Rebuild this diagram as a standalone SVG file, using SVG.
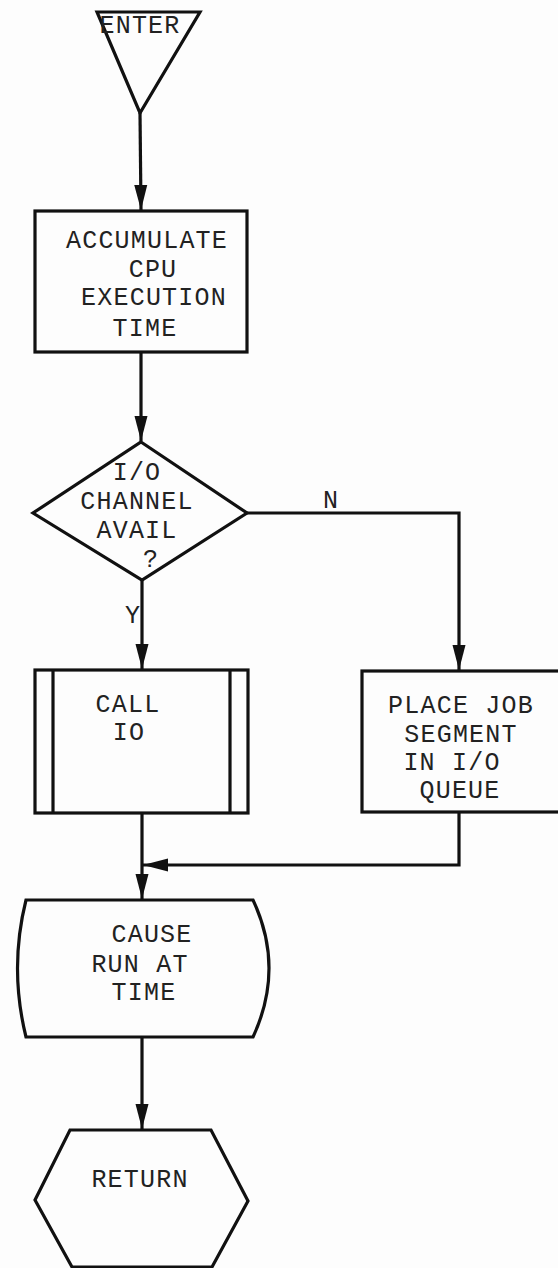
<svg xmlns="http://www.w3.org/2000/svg" width="558" height="1268" viewBox="0 0 558 1268">
<style>
.s{fill:#fdfdfd;stroke:#111;stroke-width:3.2;stroke-linejoin:miter}
.c{fill:none;stroke:#111;stroke-width:3.2}
text{font-family:"Liberation Mono","Courier New",monospace;font-size:25px;fill:#222;text-anchor:middle;letter-spacing:1.2px}
</style>
<defs>
<marker id="ah" markerUnits="userSpaceOnUse" markerWidth="26" markerHeight="16" viewBox="0 0 26 16" refX="25" refY="8" orient="auto">
<path d="M0,1.5 L25,8 L0,14.5 Z" fill="#111"/>
</marker>
</defs>
<rect width="558" height="1268" fill="#fdfdfd"/>
<g id="connectors">
<path class="c" d="M140,113 L141,210" marker-end="url(#ah)"/>
<path class="c" d="M141,352 L141,441" marker-end="url(#ah)"/>
<path class="c" d="M142,580 L142,669" marker-end="url(#ah)"/>
<path class="c" d="M247,513 L459,513 L459,670" marker-end="url(#ah)"/>
<path class="c" d="M142,813 L142,899" marker-end="url(#ah)"/>
<path class="c" d="M459,812 L459,865 L143,865" marker-end="url(#ah)"/>
<path class="c" d="M142,1037 L142,1129" marker-end="url(#ah)"/>
<text x="331" y="508">N</text>
<text x="133" y="623">Y</text>
</g>
<g id="enter">
<path class="s" d="M97,12 L200,12 L140,113 Z"/>
<text x="140" y="33">ENTER</text>
</g>
<g id="accumulate">
<rect class="s" x="35" y="211" width="212" height="141"/>
<text x="147" y="248">ACCUMULATE</text>
<text x="153" y="277">CPU</text>
<text x="154" y="305">EXECUTION</text>
<text x="145" y="336">TIME</text>
</g>
<g id="decision">
<path class="s" d="M141,442 L247,513 L142,580 L33,513 Z"/>
<text x="137" y="480">I/O</text>
<text x="137" y="509">CHANNEL</text>
<text x="137" y="538">AVAIL</text>
<text x="151" y="567">?</text>
</g>
<g id="callio">
<rect class="s" x="35" y="670" width="213" height="143"/>
<line class="c" x1="53" y1="670" x2="53" y2="813"/>
<line class="c" x1="230" y1="670" x2="230" y2="813"/>
<text x="128" y="712">CALL</text>
<text x="129" y="740">IO</text>
</g>
<g id="placejob">
<rect class="s" x="362" y="671" width="200" height="141"/>
<text x="461" y="713">PLACE JOB</text>
<text x="461" y="742">SEGMENT</text>
<text x="452" y="770">IN I/O</text>
<text x="460" y="798">QUEUE</text>
</g>
<g id="cause">
<path class="s" d="M26,900 L253,900 Q285,968 253,1037 L26,1037 Q9,968 26,900 Z"/>
<text x="152" y="942">CAUSE</text>
<text x="140" y="972">RUN AT</text>
<text x="144" y="1000">TIME</text>
</g>
<g id="return">
<path class="s" d="M70,1130 L211,1130 L248,1201 L212,1267 L72,1267 L35,1200 Z"/>
<text x="140" y="1187">RETURN</text>
</g>
</svg>
